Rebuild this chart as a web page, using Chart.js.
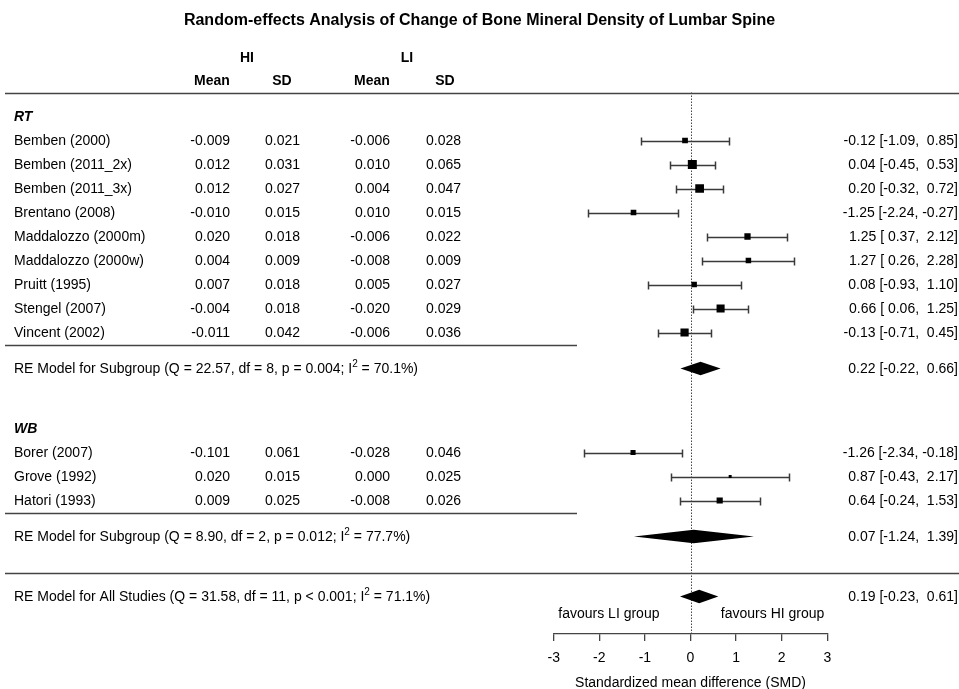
<!DOCTYPE html>
<html>
<head>
<meta charset="utf-8">
<title>Forest plot - BMD lumbar spine</title>
<script src="https://cdn.jsdelivr.net/npm/chart.js@4.4.0/dist/chart.umd.min.js"></script>
<style>
  html, body { margin: 0; padding: 0; background: #fff; }
  canvas { display: block; }
</style>
</head>
<body>
<canvas id="forest" width="959" height="689"></canvas>
<script>
// ---- data ----
const chartTitle = 'Random-effects Analysis of Change of Bone Mineral Density of Lumbar Spine';
const groupNames = ['RT', 'WB'];

const rtStudies = ['Bemben (2000)', 'Bemben (2011_2x)', 'Bemben (2011_3x)', 'Brentano (2008)',
  'Maddalozzo (2000m)', 'Maddalozzo (2000w)', 'Pruitt (1995)', 'Stengel (2007)', 'Vincent (2002)'];
const rtHiMean = [-0.009, 0.012, 0.012, -0.010, 0.020, 0.004, 0.007, -0.004, -0.011];
const rtHiSD   = [0.021, 0.031, 0.027, 0.015, 0.018, 0.009, 0.018, 0.018, 0.042];
const rtLiMean = [-0.006, 0.010, 0.004, 0.010, -0.006, -0.008, 0.005, -0.020, -0.006];
const rtLiSD   = [0.028, 0.065, 0.047, 0.015, 0.022, 0.009, 0.027, 0.029, 0.036];
const rtSmd    = [-0.12, 0.04, 0.20, -1.25, 1.25, 1.27, 0.08, 0.66, -0.13];
const rtLower  = [-1.09, -0.45, -0.32, -2.24, 0.37, 0.26, -0.93, 0.06, -0.71];
const rtUpper  = [0.85, 0.53, 0.72, -0.27, 2.12, 2.28, 1.10, 1.25, 0.45];

const wbStudies = ['Borer (2007)', 'Grove (1992)', 'Hatori (1993)'];
const wbHiMean = [-0.101, 0.020, 0.009];
const wbHiSD   = [0.061, 0.015, 0.025];
const wbLiMean = [-0.028, 0.000, -0.008];
const wbLiSD   = [0.046, 0.025, 0.026];
const wbSmd    = [-1.26, 0.87, 0.64];
const wbLower  = [-2.34, -0.43, -0.24];
const wbUpper  = [-0.18, 2.17, 1.53];

const summaryLabels = [
  'RE Model for Subgroup (Q = 22.57, df = 8, p = 0.004; I² = 70.1%)',
  'RE Model for Subgroup (Q = 8.90, df = 2, p = 0.012; I² = 77.7%)',
  'RE Model for All Studies (Q = 31.58, df = 11, p < 0.001; I² = 71.1%)'
];
const summaryEst   = [0.22, 0.07, 0.19];
const summaryLower = [-0.22, -1.24, -0.23];
const summaryUpper = [0.66, 1.39, 0.61];

const xTicks = [-3, -2, -1, 0, 1, 2, 3];

// ---- layout (row numbers, top to bottom) ----
const FONT = "'Liberation Sans', Arial, Helvetica, sans-serif";
const TEXT = '#000';
const rtRows = rtStudies.map((_, i) => i + 1);
const wbRows = wbStudies.map((_, i) => i + 14);
const groupRows = [0, 13];
const summaryRows = [10.5, 17.5, 20];

// all individual studies in one list
const studies = rtStudies.concat(wbStudies).map((name, i) => {
  const rt = i < rtStudies.length;
  const j = rt ? i : i - rtStudies.length;
  return {
    name,
    row: rt ? rtRows[j] : wbRows[j],
    hiMean: rt ? rtHiMean[j] : wbHiMean[j],
    hiSD: rt ? rtHiSD[j] : wbHiSD[j],
    liMean: rt ? rtLiMean[j] : wbLiMean[j],
    liSD: rt ? rtLiSD[j] : wbLiSD[j],
    est: rt ? rtSmd[j] : wbSmd[j],
    lo: rt ? rtLower[j] : wbLower[j],
    hi: rt ? rtUpper[j] : wbUpper[j]
  };
});

// square size from precision (1/se)
const prec = studies.map(s => 1 / ((s.hi - s.lo) / (2 * 1.96)));
const pMin = Math.min(...prec), pMax = Math.max(...prec);
const sideOf = p => 3 + 6 * Math.sqrt((p - pMin) / (pMax - pMin));

function pad5(v) {
  return v.toFixed(2).padStart(5, ' ');
}
function ciText(est, lo, hi) {
  return est.toFixed(2) + ' [' + pad5(lo) + ', ' + pad5(hi) + ']';
}

// draws a label, rendering the "²" as a raised small 2
function drawLabel(ctx, text, x, y) {
  const parts = text.split('²');
  ctx.textAlign = 'left';
  ctx.font = '14px ' + FONT;
  ctx.fillText(parts[0], x, y);
  if (parts.length > 1) {
    let cx = x + ctx.measureText(parts[0]).width;
    ctx.font = '10px ' + FONT;
    ctx.fillText('2', cx, y - 5);
    cx += ctx.measureText('2').width;
    ctx.font = '14px ' + FONT;
    ctx.fillText(parts[1], cx, y);
  }
}

const forestPlugin = {
  id: 'forest',
  beforeDatasetsDraw(chart) {
    const { ctx, chartArea, scales: { x, y } } = chart;
    ctx.save();
    // dotted reference line at 0
    const x0 = Math.round(x.getPixelForValue(0)) + 0.5;
    ctx.strokeStyle = '#444';
    ctx.lineWidth = 1;
    ctx.setLineDash([1.5, 1.5]);
    ctx.beginPath();
    ctx.moveTo(x0, chartArea.top);
    ctx.lineTo(x0, chartArea.bottom);
    ctx.stroke();
    ctx.setLineDash([]);

    // confidence interval whiskers
    ctx.strokeStyle = '#3a3a3a';
    ctx.lineWidth = 1.5;
    studies.forEach(s => {
      const py = Math.round(y.getPixelForValue(s.row)) + 0.5;
      const a = Math.round(x.getPixelForValue(s.lo)) + 0.5;
      const b = Math.round(x.getPixelForValue(s.hi)) + 0.5;
      ctx.beginPath();
      ctx.moveTo(a, py); ctx.lineTo(b, py);
      ctx.moveTo(a, py - 4); ctx.lineTo(a, py + 4);
      ctx.moveTo(b, py - 4); ctx.lineTo(b, py + 4);
      ctx.stroke();
    });
    ctx.restore();
  },
  afterDatasetsDraw(chart) {
    const { ctx, scales: { x, y } } = chart;
    ctx.save();

    // summary diamonds
    ctx.fillStyle = '#000';
    summaryEst.forEach((est, i) => {
      const py = y.getPixelForValue(summaryRows[i]);
      ctx.beginPath();
      ctx.moveTo(x.getPixelForValue(summaryLower[i]), py);
      ctx.lineTo(x.getPixelForValue(est), py - 6.7);
      ctx.lineTo(x.getPixelForValue(summaryUpper[i]), py);
      ctx.lineTo(x.getPixelForValue(est), py + 6.7);
      ctx.closePath();
      ctx.fill();
    });

    // separator lines
    ctx.strokeStyle = '#444';
    ctx.lineWidth = 1.3;
    const hline = (row, x1, x2) => {
      const py = Math.round(y.getPixelForValue(row)) + 0.5;
      ctx.beginPath(); ctx.moveTo(x1, py); ctx.lineTo(x2, py); ctx.stroke();
    };
    hline(-1, 5, 959);
    hline(rtRows[rtRows.length - 1] + 0.5, 5, 577);
    hline(wbRows[wbRows.length - 1] + 0.5, 5, 577);
    hline(summaryRows[1] + 1.5, 5, 959);

    ctx.fillStyle = TEXT;
    ctx.textBaseline = 'middle';

    // title
    ctx.font = 'bold 16px ' + FONT;
    ctx.textAlign = 'center';
    ctx.fillText(chartTitle, 479.5, 20.5);

    // column headers
    ctx.font = 'bold 14px ' + FONT;
    const hdrY = y.getPixelForValue(-1) - 34.5;
    ctx.fillText('HI', 247, hdrY);
    ctx.fillText('LI', 407, hdrY);
    ['Mean', 'SD', 'Mean', 'SD'].forEach((t, i) => {
      ctx.fillText(t, [212, 282, 372, 445][i], hdrY + 23);
    });

    // group headings
    ctx.font = 'italic bold 14px ' + FONT;
    ctx.textAlign = 'left';
    groupNames.forEach((g, i) => ctx.fillText(g, 14, y.getPixelForValue(groupRows[i]) + 0.5));

    // study rows
    studies.forEach(s => {
      const py = y.getPixelForValue(s.row) + 0.5;
      ctx.font = '14px ' + FONT;
      ctx.textAlign = 'left';
      ctx.fillText(s.name, 14, py);
      ctx.textAlign = 'right';
      ctx.fillText(s.hiMean.toFixed(3), 230, py);
      ctx.fillText(s.hiSD.toFixed(3), 300, py);
      ctx.fillText(s.liMean.toFixed(3), 390, py);
      ctx.fillText(s.liSD.toFixed(3), 461, py);
      ctx.fillText(ciText(s.est, s.lo, s.hi), 958, py);
    });

    // summary rows
    summaryLabels.forEach((lab, i) => {
      const py = y.getPixelForValue(summaryRows[i]) + 0.5;
      drawLabel(ctx, lab, 14, py);
      ctx.textAlign = 'right';
      ctx.fillText(ciText(summaryEst[i], summaryLower[i], summaryUpper[i]), 958, py);
    });

    // favours labels
    ctx.textAlign = 'center';
    ctx.font = '14px ' + FONT;
    const fy = y.getPixelForValue(20.75);
    ctx.fillText('favours LI group', x.getPixelForValue(-1.79), fy);
    ctx.fillText('favours HI group', x.getPixelForValue(1.8), fy);

    ctx.restore();
  }
};

Chart.defaults.font.family = FONT;
Chart.defaults.color = TEXT;

const ctx = document.getElementById('forest').getContext('2d');
const forestChart = new Chart(ctx, {
  type: 'scatter',
  data: {
    datasets: [{
      label: 'SMD',
      data: studies.map(s => ({ x: s.est, y: s.row })),
      pointStyle: 'rect',
      pointRadius: prec.map(p => sideOf(p) / Math.SQRT2),
      backgroundColor: '#000',
      borderWidth: 0
    }]
  },
  options: {
    responsive: false,
    animation: false,
    events: [],
    layout: { padding: { left: 553.7, right: 131.7, top: 92.5, bottom: 0 } },
    plugins: {
      legend: { display: false },
      tooltip: { enabled: false },
      title: { display: false }
    },
    scales: {
      x: {
        type: 'linear',
        min: -3,
        max: 3,
        afterBuildTicks: s => { s.ticks = xTicks.map(v => ({ value: v })); },
        afterFit: s => { s.height = 55; s.paddingLeft = 0; s.paddingRight = 0; },
        grid: { drawOnChartArea: false, drawTicks: true, tickLength: 7, color: '#444', lineWidth: 1.3 },
        border: { display: true, color: '#444', width: 1.3 },
        ticks: { color: TEXT, font: { size: 14 }, padding: 9, maxRotation: 0 },
        title: {
          display: true,
          text: 'Standardized mean difference (SMD)',
          color: TEXT,
          font: { size: 14 },
          padding: { top: 0, bottom: -2.5 }
        }
      },
      y: {
        type: 'linear',
        display: false,
        reverse: true,
        min: -1,
        max: 21.5625
      }
    }
  },
  plugins: [forestPlugin]
});
</script>
</body>
</html>
